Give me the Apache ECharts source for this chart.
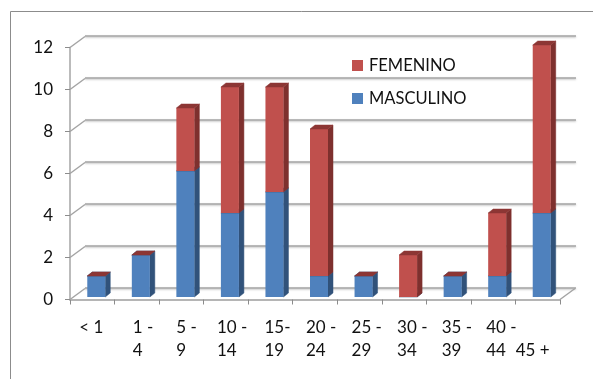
<!DOCTYPE html>
<html>
<head>
<meta charset="utf-8">
<style>html,body{margin:0;padding:0;background:#fff}#c{width:593px;height:379px}</style>
<script src="https://cdn.jsdelivr.net/npm/echarts@6/dist/echarts.min.js"></script>
</head>
<body>
<div id="c"></div>
<script>
// Age bands and case counts by sex
const ageBands = ['< 1', '1 -\n4', '5 -\n9', '10 -\n14', '15-\n19', '20 -\n24', '25 -\n29', '30 -\n34', '35 -\n39', '40 -\n44', '\n45 +'];
const masculino = [1, 2, 6, 4, 5, 1, 1, 0, 1, 1, 4];
const femenino = [0, 0, 3, 6, 5, 7, 0, 2, 0, 3, 8];
const yTicks = [0, 2, 4, 6, 8, 10, 12];

// Left edge of each wrapped label, relative to its band centre
const labelShift = [-13, -4, -5, -9, -6, -9, -8, -7, -7, -7, -22];

const FONT = 'Lato, "Open Sans", sans-serif';
const GRID = '#a4a4a4';
const WALL = { dx: 15, dy: -11 };   // depth of the chart floor and walls
const BAR = { width: 18, shift: 4, dx: 5, dy: -4, lift: 2.5 };

const chart = echarts.init(document.getElementById('c'), null, { renderer: 'canvas' });

function poly(points, fill, stroke) {
  return { type: 'polygon', shape: { points }, style: { fill, stroke: stroke || fill, lineWidth: 0.5 } };
}

// Draws one stacked segment as a box: front face, side face and cap
function boxRenderer(front, side, cap) {
  return function (params, api) {
    const i = api.value(0), lo = api.value(1), hi = api.value(2);
    const c = api.coord([i, lo]), d = api.coord([i, hi]);
    const x0 = c[0] + BAR.shift - BAR.width / 2, x1 = x0 + BAR.width;
    const yb = c[1] - BAR.lift, yt = d[1] - BAR.lift;
    const { dx, dy } = BAR;
    const children = [];
    if (hi > lo) {
      children.push(poly([[x1, yb], [x1 + dx, yb + dy], [x1 + dx, yt + dy], [x1, yt]], side));
      children.push({ type: 'rect', shape: { x: x0, y: yt, width: BAR.width, height: yb - yt }, style: { fill: front } });
    }
    children.push(poly([[x0, yt], [x0 + dx, yt + dy], [x1 + dx, yt + dy], [x1, yt]], cap));
    return { type: 'group', children };
  };
}

// Diagonal wall ticks joining the front axis to the back grid
function wallRenderer(params, api) {
  const p = api.coord([0, api.value(0)]);
  const x = params.coordSys.x;
  const line = (x1, y1) => ({
    type: 'line',
    shape: { x1, y1, x2: x1 + WALL.dx, y2: y1 + WALL.dy },
    style: { stroke: GRID, lineWidth: 1.5 }
  });
  const children = [line(x, p[1])];
  if (api.value(0) === 0) children.push(line(x + params.coordSys.width, p[1]));
  return { type: 'group', children };
}

function labelRenderer(params, api) {
  const i = api.value(0);
  const p = api.coord([i, 0]);
  return {
    type: 'text',
    x: p[0] + labelShift[i],
    y: p[1] + 17,
    style: {
      text: ageBands[i],
      font: '17px ' + FONT,
      fill: '#111',
      align: 'left',
      verticalAlign: 'top',
      lineHeight: 23
    }
  };
}

const stackedBottom = masculino.map((v, i) => [i, 0, v]);
const stackedTop = femenino.map((v, i) => [i, masculino[i], masculino[i] + v]);

chart.setOption({
  animation: false,
  backgroundColor: '#fff',
  textStyle: { fontFamily: FONT },
  graphic: [
    { type: 'line', shape: { x1: 10.5, y1: 11.5, x2: 593, y2: 11.5 }, style: { stroke: '#8c8c8c', lineWidth: 1 } },
    { type: 'line', shape: { x1: 10.5, y1: 11.5, x2: 10.5, y2: 379 }, style: { stroke: '#8c8c8c', lineWidth: 1 } }
  ],
  legend: {
    data: ['FEMENINO', 'MASCULINO'],
    orient: 'vertical',
    left: 352,
    top: 57,
    padding: 0,
    itemWidth: 11,
    itemHeight: 11,
    itemGap: 16,
    icon: 'rect',
    textStyle: { fontFamily: FONT, fontSize: 16.5, color: '#111', padding: [0, 0, 0, 1] }
  },
  grid: [
    { left: 70, top: 47.5, width: 490, height: 252 },
    { left: 85, top: 36, width: 491, height: 252 }
  ],
  xAxis: [
    {
      type: 'category', gridIndex: 0, data: ageBands,
      axisLine: { lineStyle: { color: '#b5b5b5', width: 2 } },
      axisTick: { show: true, length: 5, lineStyle: { color: '#8c8c8c' } },
      axisLabel: { show: false }
    },
    {
      type: 'category', gridIndex: 1, data: ageBands, show: false
    }
  ],
  yAxis: [
    {
      type: 'value', gridIndex: 0, min: 0, max: 12, interval: 2,
      axisLine: { show: true, lineStyle: { color: GRID, width: 1.5 } },
      axisTick: { show: true, length: 5, lineStyle: { color: '#8c8c8c' } },
      axisLabel: { fontFamily: FONT, fontSize: 17, color: '#111', margin: 17, padding: [4, 0, 0, 0] },
      splitLine: { show: false }
    },
    {
      type: 'value', gridIndex: 1, min: 0, max: 12, interval: 2,
      axisLine: { show: false }, axisTick: { show: false }, axisLabel: { show: false },
      splitLine: { show: true, lineStyle: { color: GRID, width: 1.5, shadowColor: 'rgba(0,0,0,0.25)', shadowBlur: 2, shadowOffsetY: 1 } }
    }
  ],
  series: [
    {
      type: 'custom', name: 'pared', xAxisIndex: 0, yAxisIndex: 0, silent: true, z: 1,
      data: yTicks.map(v => [v]), encode: { y: 0 }, renderItem: wallRenderer
    },
    {
      type: 'custom', name: 'MASCULINO', xAxisIndex: 0, yAxisIndex: 0, z: 3,
      itemStyle: { color: '#4f81bd' },
      data: stackedBottom, encode: { x: 0, y: [1, 2] },
      renderItem: boxRenderer('#4f81bd', '#31527a', '#31527a')
    },
    {
      type: 'custom', name: 'FEMENINO', xAxisIndex: 0, yAxisIndex: 0, z: 4,
      itemStyle: { color: '#c0504d' },
      data: stackedTop, encode: { x: 0, y: [1, 2] },
      renderItem: boxRenderer('#c0504d', '#7e302e', '#8c3634')
    },
    {
      type: 'custom', name: 'edades', xAxisIndex: 0, yAxisIndex: 0, silent: true, z: 5,
      data: ageBands.map((_, i) => [i]), encode: { x: 0 }, renderItem: labelRenderer
    }
  ]
});
</script>
</body>
</html>
